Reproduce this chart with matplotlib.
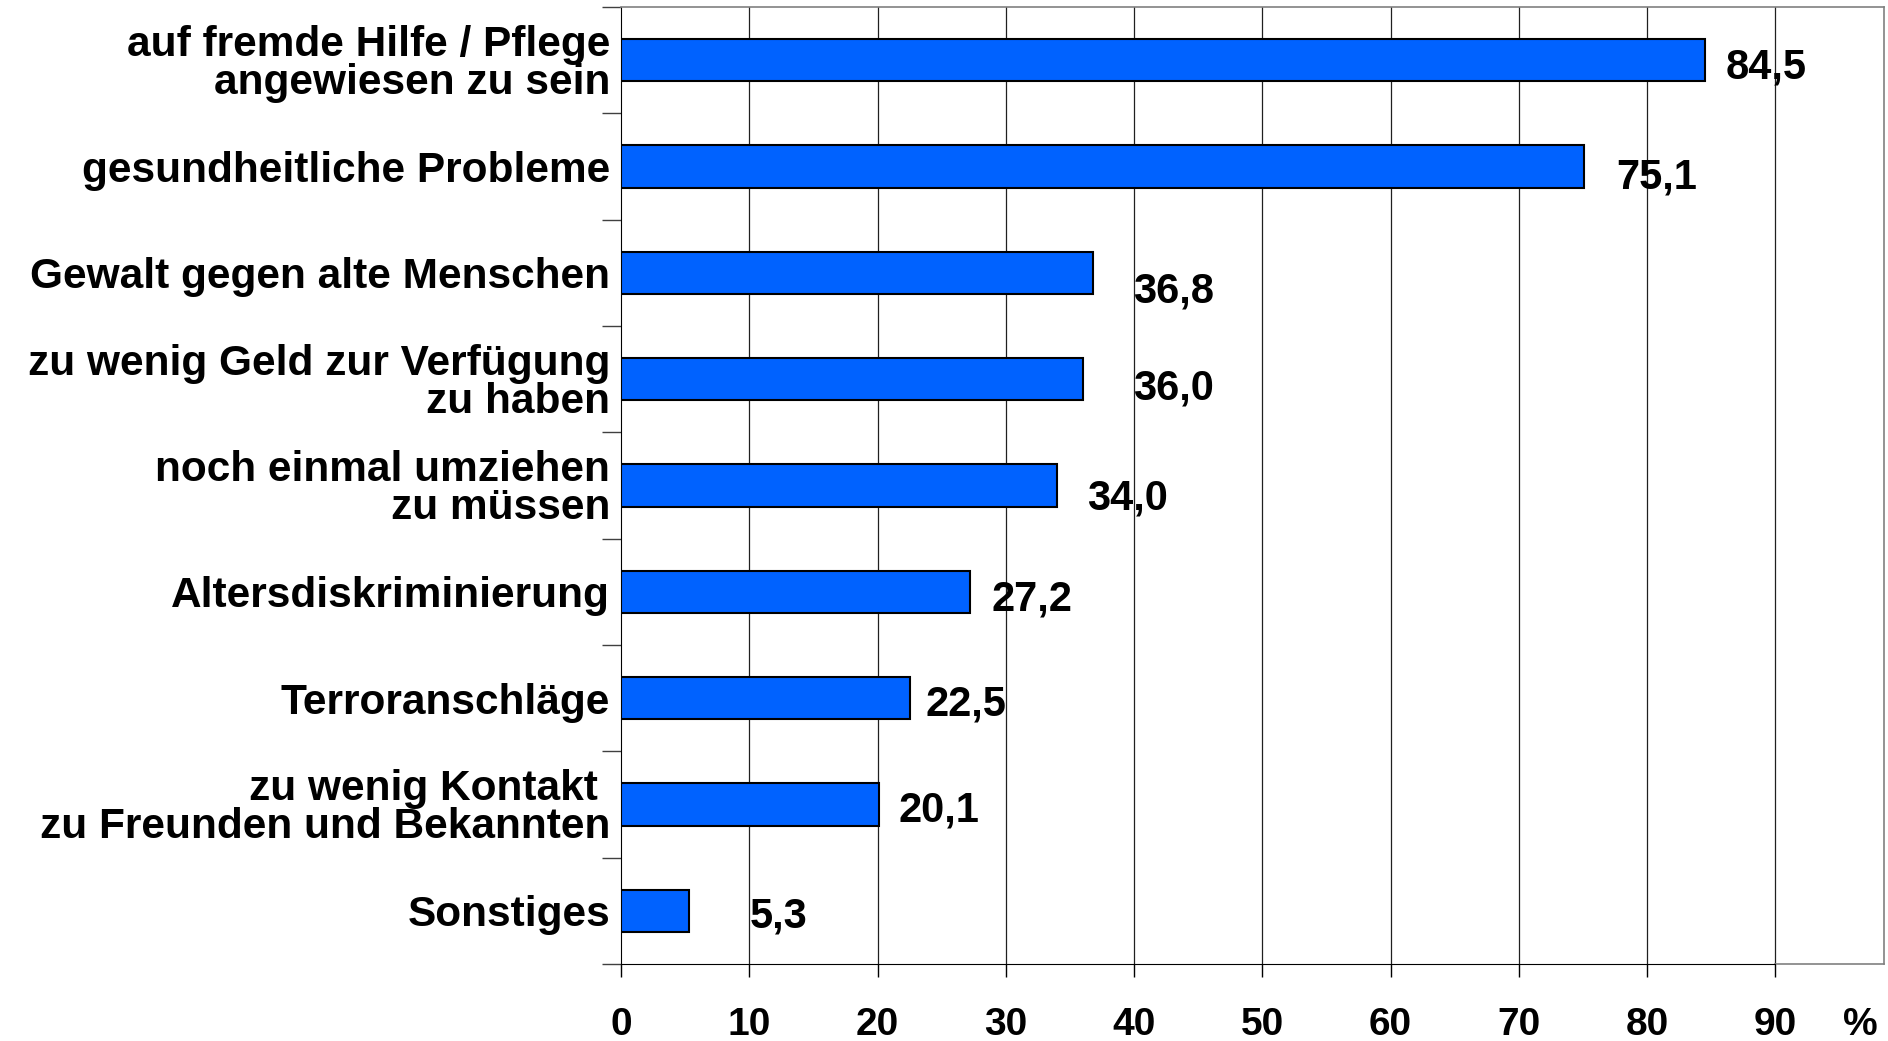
import numpy as np
import matplotlib.pyplot as plt
from matplotlib import font_manager

# ============ DATA ============
categories = [
    "auf fremde Hilfe / Pflege\nangewiesen zu sein",
    "gesundheitliche Probleme",
    "Gewalt gegen alte Menschen",
    "zu wenig Geld zur Verfügung\nzu haben",
    "noch einmal umziehen\nzu müssen",
    "Altersdiskriminierung",
    "Terroranschläge",
    "zu wenig Kontakt \nzu Freunden und Bekannten",
    "Sonstiges",
]
values = [84.5, 75.1, 36.8, 36.0, 34.0, 27.2, 22.5, 20.1, 5.3]
value_labels = ["84,5", "75,1", "36,8", "36,0", "34,0", "27,2", "22,5", "20,1", "5,3"]
x_ticks = [0, 10, 20, 30, 40, 50, 60, 70, 80, 90]

# label placement as in the original (left edge in data units, vertical shift in slots)
label_x = [86.1, 77.6, 39.9, 39.9, 36.3, 28.9, 23.7, 21.6, 10.0]
label_dy = [0.07, 0.10, 0.18, 0.09, 0.12, 0.07, 0.06, 0.06, 0.05]

# ============ STYLE ============
plt.rcParams['font.family'] = ['Liberation Sans', 'DejaVu Sans']
plt.rcParams['font.weight'] = 'bold'

# axis numbers look condensed in the original
installed = {f.name for f in font_manager.fontManager.ttflist}
if 'Liberation Sans Narrow' in installed:
    tick_family, tick_size = ['Liberation Sans Narrow', 'DejaVu Sans'], 30
else:
    tick_family, tick_size = ['Liberation Sans', 'DejaVu Sans'], 28

fig = plt.figure(figsize=(18.88, 10.41), dpi=100)
ax = fig.add_axes([0.329, 0.074, 0.669, 0.9193])

y = np.arange(len(categories))
ax.barh(y, values, height=0.4, color='#0062FF', edgecolor='black', linewidth=1.5, zorder=3)

for yi, lx, dy, txt in zip(y, label_x, label_dy, value_labels):
    ax.text(lx, yi + dy, txt, ha='left', va='center', fontsize=30, fontweight='bold', zorder=4)

ax.set_xlim(0, 98.5)
ax.set_ylim(len(categories) - 0.5, -0.5)

# grid
for gx in x_ticks[1:]:
    ax.axvline(gx, color='#202020', linewidth=0.9, zorder=1)

ax.set_yticks(y)
ax.set_yticklabels(categories, fontsize=30.5, fontweight='bold', linespacing=0.95)
ax.set_yticks(np.arange(-0.5, len(categories), 1), minor=True)
ax.tick_params(axis='y', which='major', length=0, pad=8)
ax.tick_params(axis='y', which='minor', length=14, width=1, color='#404040')

ax.set_xticks(x_ticks)
ax.set_xticklabels([str(t) for t in x_ticks], fontsize=tick_size, fontweight='bold',
                   family=tick_family)
ax.tick_params(axis='x', length=9, width=1, pad=22)

ax.annotate("%", xy=(96.6, 0), xycoords=ax.get_xaxis_transform(),
            xytext=(0, -31), textcoords='offset points', ha='center', va='top',
            fontsize=tick_size, fontweight='bold', family=tick_family)

for side in ['top', 'right']:
    ax.spines[side].set_color('#808080')
    ax.spines[side].set_linewidth(1.2)
ax.spines['left'].set_color('black')
ax.spines['bottom'].set_color('black')
ax.spines['bottom'].set_bounds(0, 90)
ax.axhline(len(categories) - 0.5, xmin=90 / 98.5, xmax=1, color='#808080', linewidth=1.2, clip_on=False)

plt.savefig('out.png', dpi=100)
